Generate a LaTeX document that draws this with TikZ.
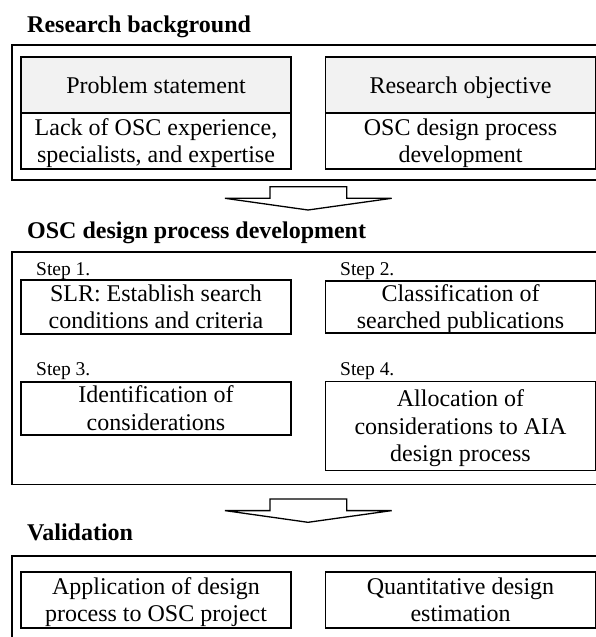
\documentclass[tikz,border=0pt]{standalone}
\usepackage{fontspec}
\setmainfont{Liberation Serif}
\definecolor{headgray}{RGB}{242,242,242}
\newcommand\boxline[1]{\rule[-0.5pt]{0pt}{17pt}\smash{#1}}
\begin{document}
\begin{tikzpicture}[x=1pt,y=-1pt]
\tikzset{
 outerbox/.style={draw, line width=1.7pt, inner sep=0pt, minimum width=594pt},
 box/.style={draw, line width=1.3pt, inner sep=0pt, align=center, font=\fontsize{24}{27.5}\selectfont, minimum width=270pt},
 headbox/.style={box, fill=headgray},
 sectitle/.style={anchor=base west, inner sep=0pt, font=\fontsize{24}{28}\selectfont\bfseries},
 steplabel/.style={anchor=base west, inner sep=0pt, font=\fontsize{19.5}{22}\selectfont},
 blockarrow/.style={draw, line width=1.3pt, fill=white, line join=miter}
}
\clip (0,0) rectangle (596,637);
% Section 1
\node[sectitle] (t1) at (27,32) {Research background};
\node[outerbox, minimum height=135pt] (bg1) at (308.7,112.5) {};
\node[headbox, minimum height=56pt] (psh) at (156,85) {\boxline{Problem statement}};
\node[box, minimum height=56pt] (psb) at (156,141) {\boxline{Lack of OSC experience,}\\\boxline{specialists, and expertise}};
\node[headbox, minimum height=56pt] (roh) at (460.5,85) {\boxline{Research objective}};
\node[box, minimum height=56pt] (rob) at (460.5,141) {\boxline{OSC design process}\\\boxline{development}};
% Arrow 1
\coordinate (a1) at (308,186.7);
\draw[blockarrow, shift={(a1)}] (-38,0) -- (38.7,0) -- (38.7,11.6) -- (83.7,11.6) -- (0,23.3) -- (-83,11.6) -- (-38,11.6) -- cycle;
% Section 2
\node[sectitle] (t2) at (27,238.3) {OSC design process development};
\node[outerbox, minimum height=232.8pt] (bg2) at (308.7,368.1) {};
\node[steplabel] (l1) at (36,275) {Step 1.};
\node[steplabel] (l2) at (340,275) {Step 2.};
\node[steplabel] (l3) at (36,375) {Step 3.};
\node[steplabel] (l4) at (340,375) {Step 4.};
\node[box, minimum height=54pt] (s1) at (156,307) {\boxline{SLR: Establish search}\\\boxline{conditions and criteria}};
\node[box, minimum height=52pt] (s2) at (460.5,307) {\boxline{Classification of}\\\boxline{searched publications}};
\node[box, minimum height=53pt] (s3) at (156,408.5) {\boxline{Identification of}\\\boxline{considerations}};
\node[box, minimum height=89pt] (s4) at (460.5,426.2) {\boxline{Allocation of}\\\boxline{considerations to AIA}\\\boxline{design process}};
% Arrow 2
\coordinate (a2) at (308,499);
\draw[blockarrow, shift={(a2)}] (-38,0) -- (38.7,0) -- (38.7,11.6) -- (83.7,11.6) -- (0,23.3) -- (-83,11.6) -- (-38,11.6) -- cycle;
% Section 3
\node[sectitle] (t3) at (27,540) {Validation};
\node[outerbox, minimum height=94pt] (bg3) at (308.7,603) {};
\node[box, minimum height=56pt] (v1) at (156,600) {\boxline{Application of design}\\\boxline{process to OSC project}};
\node[box, minimum height=56pt] (v2) at (460.5,600) {\boxline{Quantitative design}\\\boxline{estimation}};
\end{tikzpicture}
\end{document}
